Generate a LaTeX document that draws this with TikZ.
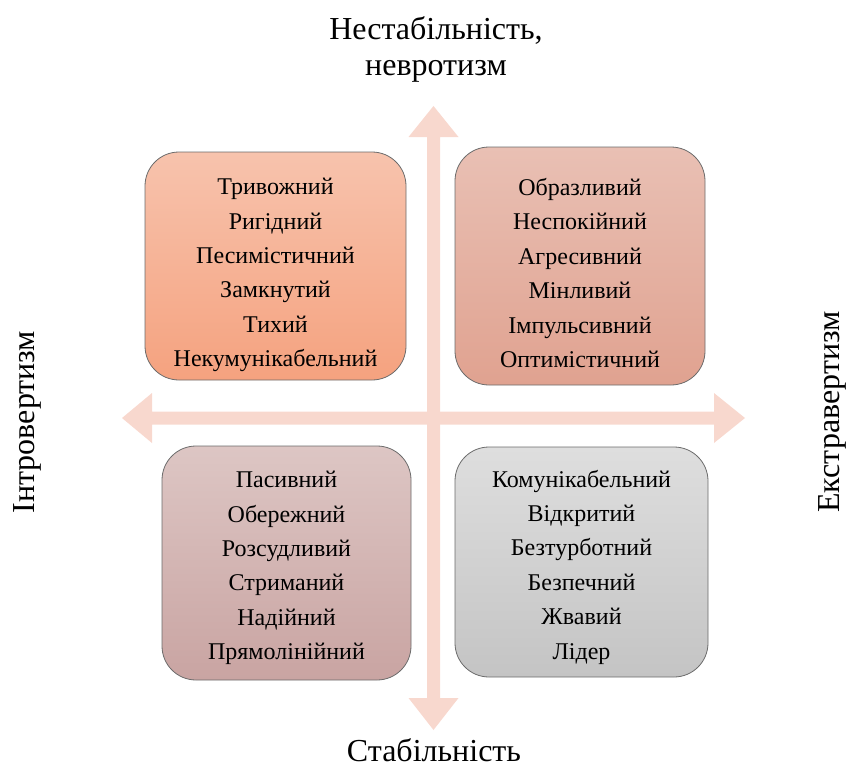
\documentclass[tikz,border=0pt]{standalone}
\usepackage{fontspec}
\setmainfont{Liberation Serif}
\begin{document}
\begin{tikzpicture}[x=1pt,y=-1pt,
  quad/.style={draw=black!58, line width=0.8pt, rounded corners=34pt, inner sep=0pt},
  quadtext/.style={align=center, font=\fontsize{24}{34.4}\selectfont, inner sep=0pt},
  axislabel/.style={font=\fontsize{32}{36}\selectfont, align=center, inner sep=0pt},
  axisfill/.style={fill=axiscol, draw=none}]
\definecolor{axiscol}{HTML}{F8D8CE}
\useasboundingbox (0,0) rectangle (848,765);
% axes
\coordinate (T) at (433.5,106);
\coordinate (B) at (433.5,730);
\coordinate (L) at (122,418);
\coordinate (R) at (745,418);
\fill[axisfill] (T) -- ([xshift=25pt,yshift=-31pt]T) -- ([xshift=6.5pt,yshift=-31pt]T)
  -- ([xshift=6.5pt,yshift=32pt]B) -- ([xshift=25pt,yshift=32pt]B) -- (B)
  -- ([xshift=-25pt,yshift=32pt]B) -- ([xshift=-6.5pt,yshift=32pt]B)
  -- ([xshift=-6.5pt,yshift=-31pt]T) -- ([xshift=-25pt,yshift=-31pt]T) -- cycle;
\fill[axisfill] (L) -- ([xshift=30pt,yshift=-25pt]L) -- ([xshift=30pt,yshift=-6.5pt]L)
  -- ([xshift=-31pt,yshift=-6.5pt]R) -- ([xshift=-31pt,yshift=-25pt]R) -- (R)
  -- ([xshift=-31pt,yshift=25pt]R) -- ([xshift=-31pt,yshift=6.5pt]R)
  -- ([xshift=30pt,yshift=6.5pt]L) -- ([xshift=30pt,yshift=25pt]L) -- cycle;
% quadrants
\node[quad, top color={rgb,255:red,247;green,195;blue,173}, bottom color={rgb,255:red,245;green,162;blue,127},
  minimum width=261pt, minimum height=228pt] (q1) at (275.5,266) {};
\node[quadtext] (t1) at ([yshift=-9pt]q1.center)
  {Тривожний\\Ригідний\\Песимістичний\\Замкнутий\\Тихий\\Некумунікабельний};
\node[quad, top color={rgb,255:red,233;green,192;blue,180}, bottom color={rgb,255:red,224;green,162;blue,144},
  minimum width=250pt, minimum height=238pt] (q2) at (580,266) {};
\node[quadtext] (t2) at ([yshift=-7pt]q2.center)
  {Образливий\\Неспокійний\\Агресивний\\Мінливий\\Імпульсивний\\Оптимістичний};
\node[quad, top color={rgb,255:red,221;green,198;blue,196}, bottom color={rgb,255:red,201;green,164;blue,162},
  minimum width=249pt, minimum height=234pt] (q3) at (286.5,563) {};
\node[quadtext] (t3) at ([yshift=-5pt]q3.center)
  {Пасивний\\Обережний\\Розсудливий\\Стриманий\\Надійний\\Прямолінійний};
\node[quad, top color={rgb,255:red,222;green,222;blue,222}, bottom color={rgb,255:red,196;green,196;blue,196},
  minimum width=253pt, minimum height=230pt] (q4) at (581.5,562) {};
\node[quadtext] (t4) at ([yshift=-5pt]q4.center)
  {Комунікабельний\\Відкритий\\Безтурботний\\Безпечний\\Жвавий\\Лідер};
% axis labels
\node[axislabel] (top) at (436,49) {Нестабільність,\\невротизм};
\node[axislabel, anchor=base] (bottom) at (434,761) {Стабільність};
\node[axislabel, rotate=90] (left) at (27,422) {Інтровертизм};
\node[axislabel, rotate=90] (right) at (832,412) {Екстравертизм};
\end{tikzpicture}
\end{document}
